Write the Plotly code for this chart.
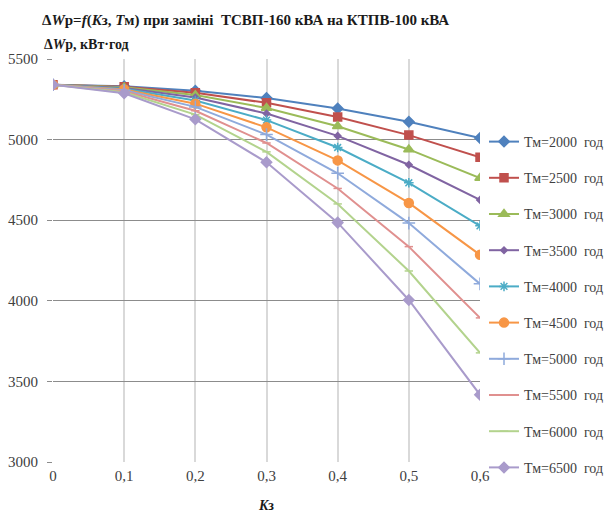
import plotly.graph_objects as go

# Load factor Kз
k_load = [0, 0.1, 0.2, 0.3, 0.4, 0.5, 0.6]

# Energy losses ΔWр (кВт·год) for each maximum-load duration Tм
tm_labels = ["Тм=2000 год", "Тм=2500 год", "Тм=3000 год", "Тм=3500 год",
             "Тм=4000 год", "Тм=4500 год", "Тм=5000 год", "Тм=5500 год",
             "Тм=6000 год", "Тм=6500 год"]

dw_2000 = [5340, 5331, 5303, 5258, 5193, 5111, 5010]
dw_2500 = [5340, 5328, 5290, 5228, 5140, 5028, 4890]
dw_3000 = [5340, 5324, 5276, 5196, 5083, 4939, 4762]
dw_3500 = [5340, 5320, 5261, 5162, 5023, 4844, 4626]
dw_4000 = [5340, 5316, 5243, 5121, 4951, 4732, 4465]
dw_4500 = [5340, 5311, 5223, 5076, 4871, 4607, 4285]
dw_5000 = [5340, 5306, 5203, 5031, 4791, 4482, 4105]
dw_5500 = [5340, 5300, 5179, 4979, 4697, 4336, 3894]
dw_6000 = [5340, 5294, 5155, 4924, 4601, 4185, 3677]
dw_6500 = [5340, 5287, 5126, 4859, 4485, 4005, 3417]

series = [dw_2000, dw_2500, dw_3000, dw_3500, dw_4000,
          dw_4500, dw_5000, dw_5500, dw_6000, dw_6500]

colors = ["#4F81BD", "#C0504D", "#9BBB59", "#8064A2", "#4BACC6",
          "#F79646", "#8FAADC", "#E0908F", "#B3D38D", "#A99BCB"]
symbols = ["diamond", "square", "triangle-up", "diamond", "asterisk-open",
           "circle", "cross-thin-open", "line-ew-open", "line-ew-open", "diamond"]
sizes = [8, 8, 9, 5, 8, 9, 9, 6, 6, 8]

font_family = "Liberation Serif"

# plot area in pixels: left 53, right 480, top 59, bottom 462
L, R, T, B = 53, 480, 59, 462
W, H = 608, 513


def px_x(p):
    return (p - L) / (R - L)


def px_y(p):
    return (B - p) / (B - T)


fig = go.Figure()
for name, vals, col, sym, sz in zip(tm_labels, series, colors, symbols, sizes):
    fig.add_trace(go.Scatter(
        x=k_load, y=vals, name=name.replace(" ", "&nbsp; "),
        mode="lines+markers",
        line=dict(color=col, width=2),
        marker=dict(symbol=sym, size=sz, color=col,
                    line=dict(color=col, width=1.5)),
        legendgroup=name,
    ))

fig.update_layout(
    width=W, height=H,
    margin=dict(l=L, r=W - R, t=T, b=H - B, autoexpand=False),
    paper_bgcolor="white", plot_bgcolor="white",
    separators=", ",
    font=dict(family=font_family, size=14, color="#404040"),
    title=dict(
        text="<b>Δ<i>W</i>р=<i>f</i>(<i>K</i>з, <i>T</i>м) при заміні  ТСВП-160 кВА на КТПВ-100 кВА</b>",
        x=42 / W, xanchor="left", y=1 - 20 / H, yanchor="middle",
        font=dict(size=15, color="#1a1a1a", family=font_family),
    ),
    xaxis=dict(
        range=[0, 0.6], dtick=0.1, tick0=0,
        showgrid=True, gridcolor="#D9D9D9", gridwidth=2,
        zeroline=False, showline=False,
        ticks="", ticklabelstandoff=3,
        tickfont=dict(size=15, color="#404040", family=font_family),
        title=dict(text="<b><i>K</i>з</b>",
                   font=dict(size=14, color="#1a1a1a", family=font_family),
                   standoff=17),
    ),
    # light frame line along the top edge of the plot area
    xaxis2=dict(
        overlaying="x", side="top", range=[0, 0.6],
        showgrid=False, zeroline=False, showticklabels=False, ticks="",
        showline=True, linecolor="#D9D9D9", linewidth=2,
    ),
    yaxis=dict(
        range=[3000, 5500], dtick=500,
        showgrid=True, gridcolor="#8C8C8C", gridwidth=1,
        zeroline=False, showline=False,
        ticks="outside", ticklen=5, tickcolor="#8C8C8C",
        ticklabelstandoff=6,
        tickfont=dict(size=15, color="#404040", family=font_family),
    ),
    legend=dict(
        x=px_x(484), xanchor="left", y=px_y(126), yanchor="top",
        font=dict(size=14, color="#404040", family=font_family),
        tracegroupgap=15, itemwidth=30,
        bgcolor="rgba(0,0,0,0)",
    ),
    annotations=[dict(
        text="<b>Δ<i>W</i>р, кВт·год</b>", xref="paper", yref="paper",
        x=px_x(42), xanchor="left", y=px_y(45), yanchor="middle",
        showarrow=False, font=dict(size=14, color="#1a1a1a", family=font_family),
    )],
)

fig.write_html("out.html")
